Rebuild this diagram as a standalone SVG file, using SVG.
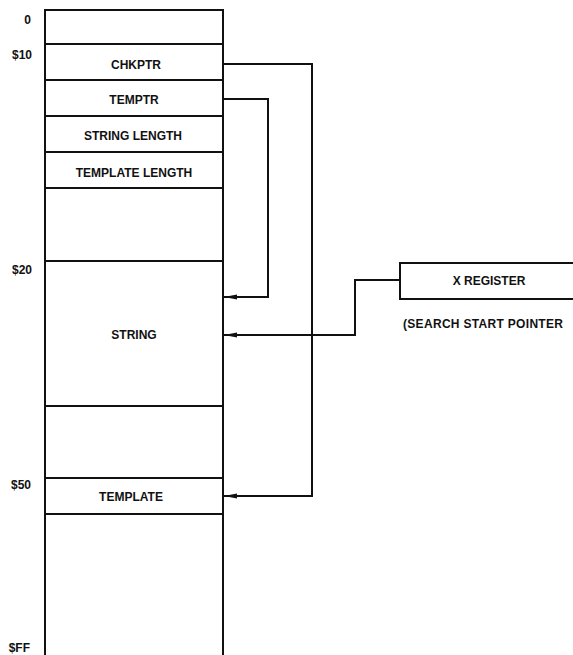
<svg xmlns="http://www.w3.org/2000/svg" width="573" height="655" viewBox="0 0 573 655">
<style>
.ln{stroke:#111;stroke-width:2;fill:none}
.cn{stroke:#111;stroke-width:2;fill:none}
text{font-family:"Liberation Sans",Arial,sans-serif;font-weight:bold;font-size:12px;fill:#111}
.c{text-anchor:middle}
.a{text-anchor:end;font-size:12px}
</style>
<defs>
<marker id="ar" markerWidth="14" markerHeight="8" refX="13" refY="4" orient="auto" markerUnits="userSpaceOnUse">
<path d="M0,1.5 L13,4 L0,6.5 Z" fill="#111"/>
</marker>
</defs>
<rect width="573" height="655" fill="#fff"/>
<g id="memory">
<path class="ln" d="M45,662 V10 H223 V662"/>
<path class="ln" d="M45,44 H223 M45,80 H223 M45,116 H223 M45,152 H223 M45,188 H223 M45,261 H223 M45,406 H223 M45,478 H223 M45,514 H223"/>
</g>
<g id="addr">
<text class="a" x="31" y="24">0</text>
<text class="a" x="32" y="59">$10</text>
<text class="a" x="32" y="274">$20</text>
<text class="a" x="31" y="489">$50</text>
<text class="a" x="30" y="652">$FF</text>
</g>
<g id="chkptr"><text class="c" x="136" y="69">CHKPTR</text></g>
<g id="temptr"><text class="c" x="134" y="104">TEMPTR</text></g>
<g id="strlen"><text class="c" x="133" y="140">STRING LENGTH</text></g>
<g id="tmplen"><text class="c" x="134" y="177">TEMPLATE LENGTH</text></g>
<g id="string"><text class="c" x="134" y="339">STRING</text></g>
<g id="template"><text class="c" x="131" y="501">TEMPLATE</text></g>
<g id="xreg">
<path class="ln" d="M580,263 H400 V299 H580"/>
<text class="c" x="489" y="285">X REGISTER</text>
<text x="403" y="328" textLength="160">(SEARCH START POINTER</text>
</g>
<g id="connectors">
<path class="cn" d="M223,64 H312 V496 H224" marker-end="url(#ar)"/>
<path class="cn" d="M223,99 H268 V297 H224" marker-end="url(#ar)"/>
<path class="cn" d="M400,280 H355 V335 H224" marker-end="url(#ar)"/>
</g>
</svg>
